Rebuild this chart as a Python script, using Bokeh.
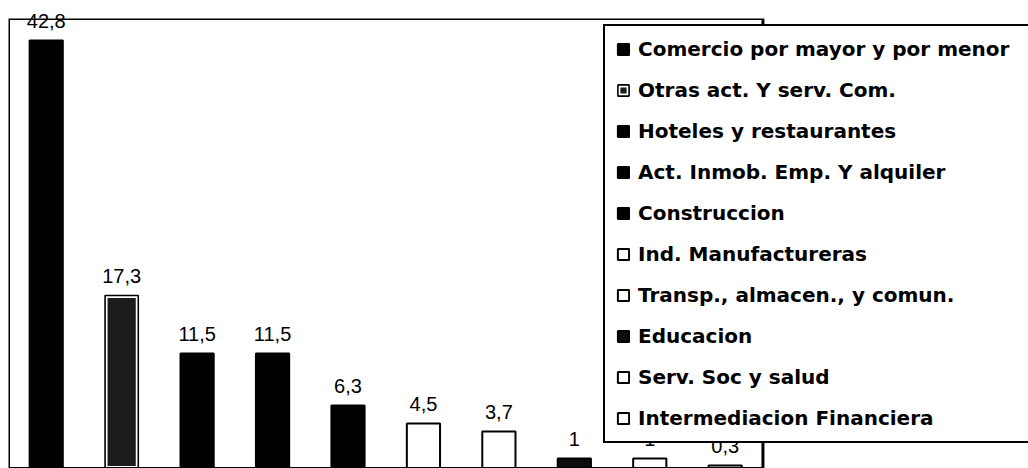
from bokeh.plotting import figure
from bokeh.models import ColumnDataSource, Range1d, Legend, LegendItem, BoxAnnotation
from bokeh.core.properties import value
from bokeh.embed import file_html
from bokeh.resources import INLINE

# ---- data ----
sectores = [
    "Comercio por mayor y por menor",
    "Otras act. Y serv. Com.",
    "Hoteles y restaurantes",
    "Act. Inmob. Emp. Y alquiler",
    "Construccion",
    "Ind. Manufactureras",
    "Transp., almacen., y comun.",
    "Educacion",
    "Serv. Soc y salud",
    "Intermediacion Financiera",
]
valores = [42.8, 17.3, 11.5, 11.5, 6.3, 4.5, 3.7, 1, 1, 0.3]
etiquetas = ["42,8", "17,3", "11,5", "11,5", "6,3", "4,5", "3,7", "1", "1", "0,3"]

# ---- styles (one per bar) ----
rellenos = ["black", "#1c1c1c", "black", "black", "black",
            "white", "white", "#0d0d0d", "white", "white"]
doble_borde = [False, True, False, False, False, False, False, False, False, False]

n = len(valores)
posiciones = list(range(n))

p = figure(
    width=1028, height=468,
    x_range=Range1d(-0.5, 13.02),
    y_range=Range1d(0, 45),
    x_axis_location=None, y_axis_location=None,
    output_backend="svg", toolbar_location=None,
    min_border_left=8, min_border_top=18, min_border_right=0, min_border_bottom=0,
)
p.xgrid.visible = False
p.ygrid.visible = False
p.outline_line_color = None
p.background_fill_color = "white"
p.border_fill_color = "white"

# chart area box (covers the bar categories only)
marco = BoxAnnotation(left=-0.5, right=n - 0.5, fill_alpha=0,
                      line_color="black", line_alpha=1.0, line_width=3)
p.add_layout(marco)

items = []
for i, (s, v) in enumerate(zip(sectores, valores)):
    src = ColumnDataSource(dict(x=[posiciones[i]], top=[v]))
    if doble_borde[i]:
        r1 = p.vbar(x="x", top="top", width=0.44, source=src,
                    fill_color=rellenos[i], line_color="white", line_width=5)
        r2 = p.vbar(x="x", top="top", width=0.44, source=src,
                    fill_color=None, line_color="black", line_width=1.6)
        rs = [r1, r2]
    else:
        r = p.vbar(x="x", top="top", width=0.44, source=src,
                   fill_color=rellenos[i], line_color="black", line_width=2)
        rs = [r]
    items.append(LegendItem(label=s, renderers=rs))

legend = Legend(
    items=items,
    location=(595, 25),
    label_text_font="DejaVu Sans",
    label_text_font_style="bold",
    label_text_font_size="20px",
    label_text_color="black",
    label_height=24,
    label_width=400,
    glyph_width=14,
    glyph_height=14,
    label_standoff=8,
    spacing=17,
    padding=11,
    margin=0,
    border_line_color="black",
    border_line_alpha=1.0,
    border_line_width=2,
    background_fill_color="white",
    background_fill_alpha=1.0,
)
p.add_layout(legend, "center")

lab_src = ColumnDataSource(dict(x=posiciones, y=valores, t=etiquetas))
p.text(x="x", y="y", text="t", source=lab_src,
       text_font=value("Liberation Sans"), text_font_size="20px",
       text_align="center", text_baseline="alphabetic", y_offset=-20,
       text_color="black", level="overlay")

open("out.html", "w").write(file_html(p, INLINE))
